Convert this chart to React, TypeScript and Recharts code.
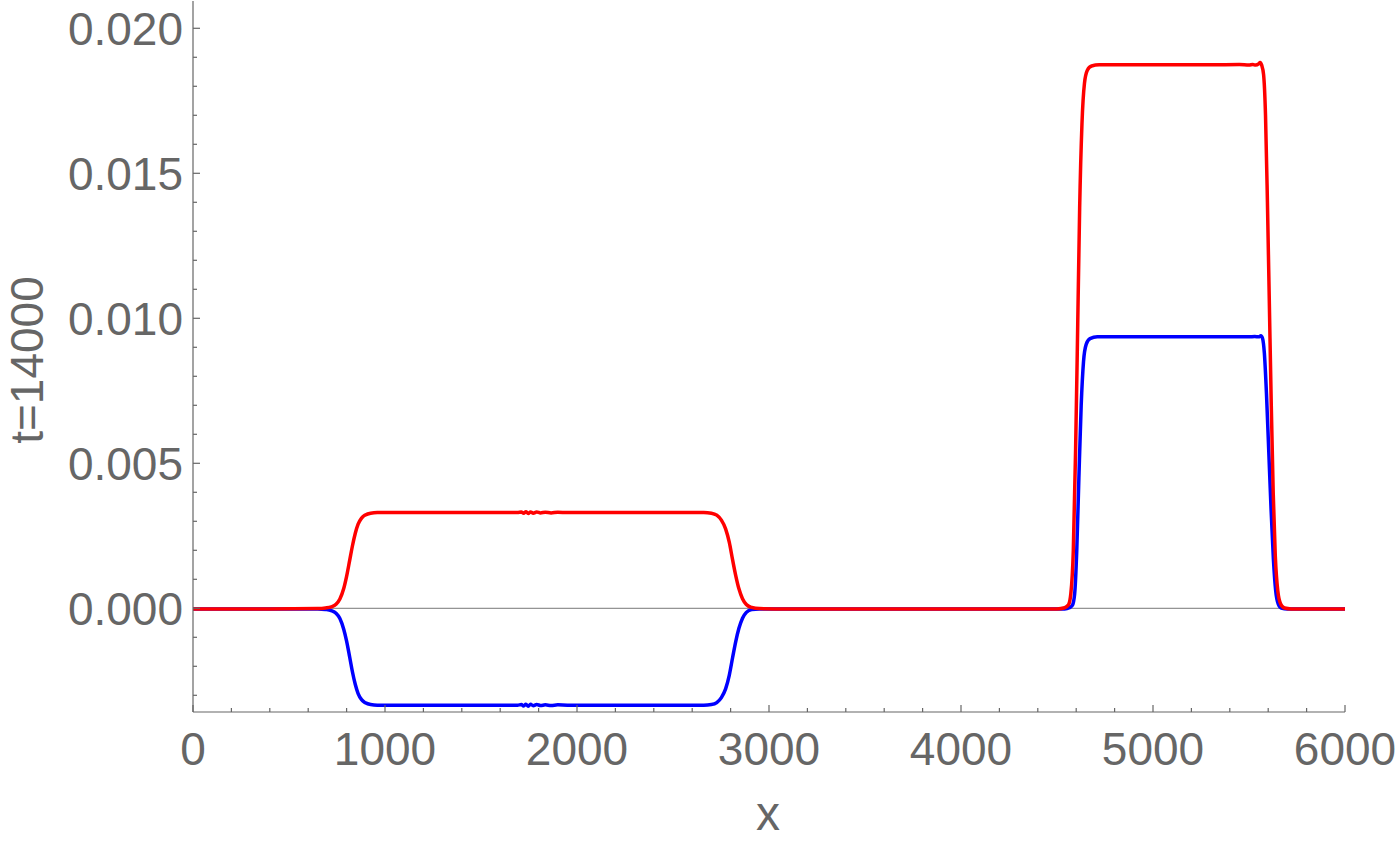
import React from 'react';
import { LineChart, Line, XAxis, YAxis, ReferenceLine } from 'recharts';

// red curve (upper)
const redX = [
  0, 400, 650, 690, 720, 745, 765, 785, 800, 816, 830, 845, 860, 878, 898, 925, 960,
  1300, 1600, 1690, 1710, 1722, 1734, 1746, 1758, 1772, 1790, 1810, 1835, 1865, 1900, 1950, 2020, 2100,
  2660, 2700, 2728, 2752, 2774, 2793, 2811, 2827, 2843, 2862, 2882, 2910, 2950, 3100,
  4500, 4540, 4560, 4572, 4585, 4597, 4608, 4618, 4630, 4643, 4658, 4680, 4720,
  5000, 5300, 5450, 5500, 5520, 5535, 5550, 5558, 5566, 5576, 5586, 5596, 5606, 5616, 5626, 5637, 5650, 5665, 5685, 5720, 6000,
];
const redY = [
  -0.00002, -0.00002, -0.00001, 0.00001, 0.00005, 0.00014, 0.00032, 0.00068, 0.0011, 0.00165, 0.00214, 0.00258, 0.0029, 0.00311, 0.00322, 0.00328, 0.0033,
  0.0033, 0.0033, 0.0033, 0.00332, 0.00328, 0.00333, 0.00327, 0.00332, 0.00328, 0.00332, 0.00329, 0.00331, 0.00329, 0.00331, 0.0033, 0.0033, 0.0033,
  0.0033, 0.00328, 0.00321, 0.00304, 0.00274, 0.00228, 0.00165, 0.00112, 0.00068, 0.00033, 0.00013, 0.00003, -0.00001, -0.00002,
  -0.00002, 0.00002, 0.00012, 0.0005, 0.002, 0.0055, 0.0098, 0.0138, 0.0167, 0.0181, 0.01855, 0.0187, 0.01874,
  0.01874, 0.01874, 0.01875, 0.01873, 0.01875, 0.01873, 0.01877, 0.01882, 0.01873, 0.0184, 0.017, 0.014, 0.0105, 0.007, 0.004, 0.0018, 0.0006, 0.00015, 0.00001, -0.00002, -0.00002,
];

// blue curve (lower)
const blueX = [
  0, 650, 690, 720, 745, 765, 785, 800, 816, 830, 845, 860, 878, 898, 925, 960,
  1690, 1710, 1722, 1734, 1746, 1758, 1772, 1790, 1810, 1835, 1865, 1900, 1950, 2020, 2100,
  2660, 2700, 2728, 2752, 2774, 2793, 2811, 2827, 2843, 2862, 2882, 2910, 2950,
  4540, 4565, 4580, 4592, 4603, 4614, 4626, 4638, 4652, 4672, 4710,
  5300, 5500, 5530, 5550, 5562, 5570, 5580, 5591, 5603, 5615, 5627, 5639, 5652, 5668, 5700, 6000,
];
const blueY = [
  -0.00002, -0.00002, -0.00004, -0.00008, -0.00017, -0.00035, -0.00072, -0.00113, -0.00168, -0.00218, -0.00262, -0.00294, -0.00315, -0.00326, -0.00332, -0.00334,
  -0.00334, -0.00332, -0.00337, -0.00331, -0.00338, -0.00331, -0.00336, -0.00332, -0.00335, -0.00333, -0.00335, -0.00333, -0.00334, -0.00334, -0.00334,
  -0.00334, -0.00332, -0.00325, -0.00308, -0.00278, -0.00231, -0.00168, -0.00114, -0.0007, -0.00034, -0.00014, -0.00004, -0.00002,
  -0.00002, 0.00002, 0.0001, 0.0005, 0.002, 0.0045, 0.007, 0.0085, 0.0091, 0.0093, 0.00936,
  0.00936, 0.00936, 0.00937, 0.00936, 0.0094, 0.00932, 0.0088, 0.0074, 0.0054, 0.0034, 0.0017, 0.0006, 0.00015, 0.00001, -0.00002, -0.00002,
];

// ticks: majors labelled, minors unlabelled
const xMajor = [0, 1000, 2000, 3000, 4000, 5000, 6000];
const xTicks = Array.from({ length: 31 }, (_, i) => i * 200);
const yMajor = ['0.000', '0.005', '0.010', '0.015', '0.020'];
const yTicks = Array.from({ length: 24 }, (_, i) => (i - 3) / 1000);

const redData = redX.map((x, i) => ({ x, v: redY[i] }));
const blueData = blueX.map((x, i) => ({ x, v: blueY[i] }));

const FRAME = '#666666';
const TEXT = '#666666';
const FONT = '"Liberation Sans", Arial, sans-serif';

const isXMajor = (v: number) => xMajor.includes(v);
const yLabel = (v: number) => {
  const s = v.toFixed(3);
  return yMajor.includes(s) ? s : null;
};

const BottomTick = (props: any) => {
  const { x, y, payload } = props;
  const major = isXMajor(payload.value);
  return (
    <g>
      <line x1={x} x2={x} y1={y} y2={y - (major ? 7 : 4)} stroke={FRAME} strokeWidth={1.2} />
      {major && (
        <text x={x} y={y + 53} textAnchor="middle" fontSize={46} fill={TEXT} fontFamily={FONT}>
          {payload.value}
        </text>
      )}
    </g>
  );
};

const TopTick = (props: any) => {
  const { x, y, payload } = props;
  const major = isXMajor(payload.value);
  return <line x1={x} x2={x} y1={y} y2={y + (major ? 7 : 4)} stroke={FRAME} strokeWidth={1.2} />;
};

const LeftTick = (props: any) => {
  const { x, y, payload } = props;
  const label = yLabel(payload.value);
  return (
    <g>
      <line x1={x} x2={x + (label ? 7 : 4)} y1={y} y2={y} stroke={FRAME} strokeWidth={1.2} />
      {label && (
        <text x={x - 10} y={y + 16.5} textAnchor="end" fontSize={46} fill={TEXT} fontFamily={FONT}>
          {label}
        </text>
      )}
    </g>
  );
};

const RightTick = (props: any) => {
  const { x, y, payload } = props;
  const major = yLabel(payload.value) !== null;
  return <line x1={x} x2={x - (major ? 7 : 4)} y1={y} y2={y} stroke={FRAME} strokeWidth={1.2} />;
};

const XTitle = () => (
  <text x={768} y={830} textAnchor="middle" fontSize={48} fill={TEXT} fontFamily={FONT}>
    x
  </text>
);

const YTitle = () => (
  <text x={43} y={360} transform="rotate(-90 43 360)" textAnchor="middle" fontSize={46} fill={TEXT} fontFamily={FONT}>
    t=14000
  </text>
);

const Y_DOMAIN: [number, number] = [-0.003576, 0.020941];

export default function App() {
  return (
    <div style={{ position: 'absolute', left: 0, top: 0, background: '#fff' }}>
      <LineChart width={1400} height={842} margin={{ top: 1, right: 55, bottom: 0, left: 0 }}>
        <XAxis
          dataKey="x"
          type="number"
          domain={[0, 6000]}
          ticks={xTicks}
          interval={0}
          allowDataOverflow
          height={130}
          tickSize={0}
          tickMargin={0}
          tickLine={false}
          axisLine={{ stroke: FRAME, strokeWidth: 1.2 }}
          tick={<BottomTick />}
          label={<XTitle />}
        />
        <XAxis
          xAxisId="top"
          orientation="top"
          dataKey="x"
          type="number"
          domain={[0, 6000]}
          ticks={xTicks}
          interval={0}
          height={0}
          tickSize={0}
          tickMargin={0}
          tickLine={false}
          axisLine={{ stroke: FRAME, strokeWidth: 1.2 }}
          tick={<TopTick />}
        />
        <YAxis
          type="number"
          domain={Y_DOMAIN}
          ticks={yTicks}
          interval={0}
          allowDataOverflow
          width={193}
          tickSize={0}
          tickMargin={0}
          tickLine={false}
          axisLine={{ stroke: FRAME, strokeWidth: 1.2 }}
          tick={<LeftTick />}
          label={<YTitle />}
        />
        <YAxis
          yAxisId="right"
          orientation="right"
          type="number"
          domain={Y_DOMAIN}
          ticks={yTicks}
          interval={0}
          allowDataOverflow
          width={0}
          tickSize={0}
          tickMargin={0}
          tickLine={false}
          axisLine={{ stroke: FRAME, strokeWidth: 1.2 }}
          tick={<RightTick />}
        />
        <ReferenceLine y={0} stroke="#777777" strokeWidth={1} />
        <Line
          data={blueData}
          dataKey="v"
          type="monotone"
          stroke="#0000ff"
          strokeWidth={3.5}
          dot={false}
          isAnimationActive={false}
        />
        <Line
          data={redData}
          dataKey="v"
          type="monotone"
          stroke="#ff0000"
          strokeWidth={3.5}
          dot={false}
          isAnimationActive={false}
        />
      </LineChart>
    </div>
  );
}
